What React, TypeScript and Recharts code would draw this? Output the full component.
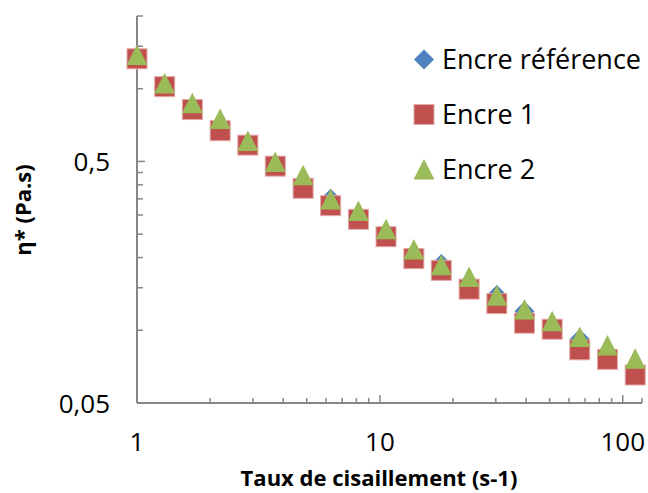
import { ScatterChart, Scatter, XAxis, YAxis } from "recharts";

// shear rate (s-1) and complex viscosity (Pa.s)
const shearRate = [1, 1.3, 1.69, 2.2, 2.86, 3.71, 4.83, 6.27, 8.16, 10.6, 13.8, 17.9, 23.3, 30.3, 39.4, 51.2, 66.5, 86.5, 112.5];
const inkRef = [1.34, 1.03, 0.83, 0.68, 0.59, 0.482, 0.39, 0.35, 0.29, 0.246, 0.2, 0.188, 0.15, 0.14, 0.12, 0.102, 0.092, 0.077, 0.066];
const ink1 = [1.33, 1.02, 0.82, 0.67, 0.584, 0.478, 0.387, 0.328, 0.288, 0.244, 0.198, 0.177, 0.148, 0.129, 0.107, 0.101, 0.083, 0.0758, 0.0653];
const ink2 = [1.38, 1.05, 0.87, 0.75, 0.607, 0.497, 0.438, 0.348, 0.312, 0.262, 0.216, 0.186, 0.166, 0.139, 0.122, 0.109, 0.0937, 0.0866, 0.0762];

const seriesNames = ["Encre référence", "Encre 1", "Encre 2"];
const seriesColors = ["#4F81BD", "#C0504D", "#9BBB59"];

const xTicks = [1, 2, 3, 4, 5, 6, 7, 8, 9, 10, 20, 30, 40, 50, 60, 70, 80, 90, 100, 120];
const xMajor = [1, 10, 100];
const yTicks = [0.05, 0.1, 0.15, 0.2, 0.25, 0.3, 0.35, 0.4, 0.45, 0.5, 1, 1.5, 2];
const yLabels: Record<string, string> = { "0.05": "0,05", "0.5": "0,5" };

const FONT = "'Open Sans', sans-serif";
const AXIS = "#868686";

const toPoints = (ys: number[]) => shearRate.map((x, i) => ({ x, y: ys[i] }));

const Diamond = ({ cx, cy, fill }: any) => (
  <polygon points={`${cx},${cy - 10} ${cx + 10},${cy} ${cx},${cy + 10} ${cx - 10},${cy}`} fill={fill} />
);
const Square = ({ cx, cy, fill }: any) => (
  <rect x={cx - 10} y={cy - 10} width={20} height={20} fill={fill} stroke="#E3A9A7" strokeWidth={1} />
);
const Triangle = ({ cx, cy, fill }: any) => (
  <polygon points={`${cx},${cy - 10.5} ${cx + 10.5},${cy + 10} ${cx - 10.5},${cy + 10}`} fill={fill} />
);
const shapes = [Diamond, Square, Triangle];

const XTick = ({ x, y, payload }: any) => {
  const major = xMajor.includes(payload.value);
  return (
    <g>
      <line x1={x} x2={x} y1={y} y2={y - (major ? 8 : 5)} stroke={AXIS} strokeWidth={1.5} />
      {major && (
        <text x={x} y={y + 48} textAnchor="middle" fontFamily={FONT} fontSize={26} fill="#000">
          {payload.value}
        </text>
      )}
    </g>
  );
};

const YTick = ({ x, y, payload }: any) => {
  const label = yLabels[String(payload.value)];
  return (
    <g>
      <line x1={x} x2={x + (label ? 8 : 6)} y1={y} y2={y} stroke={AXIS} strokeWidth={1.5} />
      {label && (
        <text x={x - 27} y={y + 10} textAnchor="end" fontFamily={FONT} fontSize={26} fill="#000">
          {label}
        </text>
      )}
    </g>
  );
};

export default function App() {
  return (
    <div style={{ position: "absolute", left: 0, top: 0, width: 648, height: 493, background: "#fff" }}>
      <ScatterChart width={648} height={493} margin={{ top: 16, right: 6, bottom: 0, left: 0 }}>
        <XAxis
          dataKey="x"
          type="number"
          scale="log"
          domain={[1, 120]}
          ticks={xTicks}
          interval={0}
          height={90}
          tickSize={0}
          tickMargin={0}
          axisLine={{ stroke: AXIS, strokeWidth: 2 }}
          tick={<XTick />}
          label={() => (
            <text x={379} y={486} textAnchor="middle" fontFamily={FONT} fontWeight="bold" fontSize={22} fill="#000">
              Taux de cisaillement (s-1)
            </text>
          )}
        />
        <YAxis
          dataKey="y"
          type="number"
          scale="log"
          domain={[0.05, 2]}
          ticks={yTicks}
          interval={0}
          width={137}
          tickSize={0}
          tickMargin={0}
          axisLine={{ stroke: AXIS, strokeWidth: 2 }}
          tick={<YTick />}
          label={() => (
            <text
              x={31}
              y={210}
              transform="rotate(-90 31 210)"
              textAnchor="middle"
              fontFamily={FONT}
              fontWeight="bold"
              fontSize={22}
              fill="#000"
            >
              η* (Pa.s)
            </text>
          )}
        />
        {[inkRef, ink1, ink2].map((ys, i) => {
          const Shape = shapes[i];
          return (
            <Scatter
              key={seriesNames[i]}
              name={seriesNames[i]}
              data={toPoints(ys)}
              fill={seriesColors[i]}
              shape={(p: any) => <Shape cx={p.cx} cy={p.cy} fill={seriesColors[i]} />}
              isAnimationActive={false}
            />
          );
        })}
      </ScatterChart>
      <svg width={648} height={493} style={{ position: "absolute", left: 0, top: 0, pointerEvents: "none" }}>
        {seriesNames.map((name, i) => {
          const cy = 59.5 + i * 55;
          const Shape = shapes[i];
          return (
            <g key={name}>
              <Shape cx={424} cy={cy} fill={seriesColors[i]} />
              <text x={442} y={cy + 9} fontFamily={FONT} fontSize={27} fill="#000">
                {name}
              </text>
            </g>
          );
        })}
      </svg>
    </div>
  );
}
